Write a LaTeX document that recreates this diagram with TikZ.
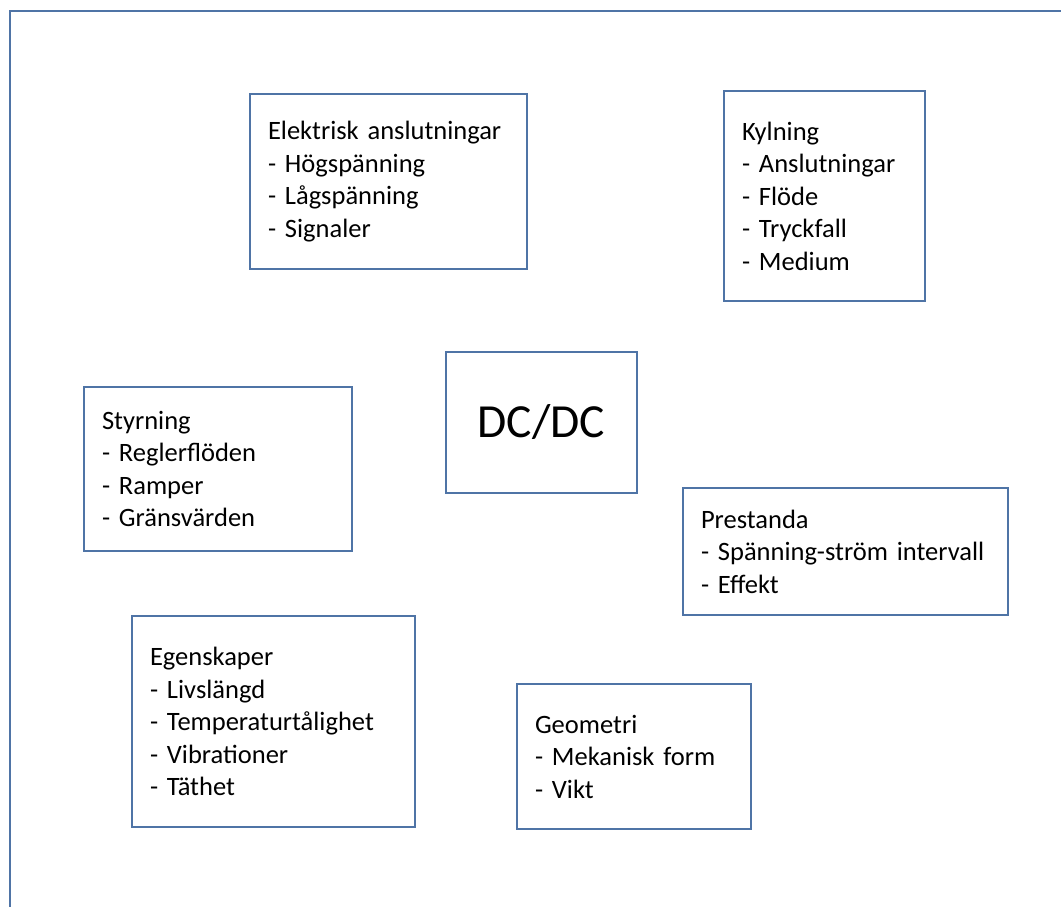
\documentclass[tikz,border=0pt]{standalone}
\usepackage{fontspec}
\setmainfont{Carlito}
\begin{document}
\begin{tikzpicture}[x=1pt,y=1pt,
  framecol/.style={draw={rgb,255:red,79;green,116;blue,166}, line width=2pt},
  infobox/.style={framecol, rectangle, anchor=south west, align=left,
    inner xsep=18pt, inner ysep=0pt, font=\fontsize{26.5}{32.5}\selectfont},
  centerbox/.style={framecol, rectangle, anchor=south west, align=center,
    inner sep=0pt, font=\fontsize{47.5}{52}\selectfont}]
\useasboundingbox (0,0) rectangle (1061,907);
\coordinate (ftop) at (1061,896);
\coordinate (fcorner) at (9.5,896);
\coordinate (fbot) at (9.5,0);
\draw[framecol] (ftop) -- (fcorner) -- (fbot);

\node[infobox, text width=241pt, minimum height=175pt] (elek) at (249,637)
  {Elektrisk anslutningar\\- Högspänning\\- Lågspänning\\- Signaler};
\node[infobox, text width=165pt, minimum height=210pt] (kyl) at (723,605)
  {Kylning\\- Anslutningar\\- Flöde\\- Tryckfall\\- Medium};
\node[centerbox, minimum width=191pt, minimum height=141pt] (dc) at (445,413) {DC/DC};
\node[infobox, text width=232pt, minimum height=164pt] (styr) at (83,355)
  {Styrning\\- Reglerflöden\\- Ramper\\- Gränsvärden};
\node[infobox, text width=289pt, minimum height=127pt] (prest) at (682,291)
  {Prestanda\\- Spänning-ström intervall\\- Effekt};
\node[infobox, text width=247pt, minimum height=211pt] (egen) at (131,79)
  {Egenskaper\\- Livslängd\\- Temperaturtålighet\\- Vibrationer\\- Täthet};
\node[infobox, text width=198pt, minimum height=145pt] (geo) at (516,77)
  {Geometri\\- Mekanisk form\\- Vikt};
\end{tikzpicture}
\end{document}
